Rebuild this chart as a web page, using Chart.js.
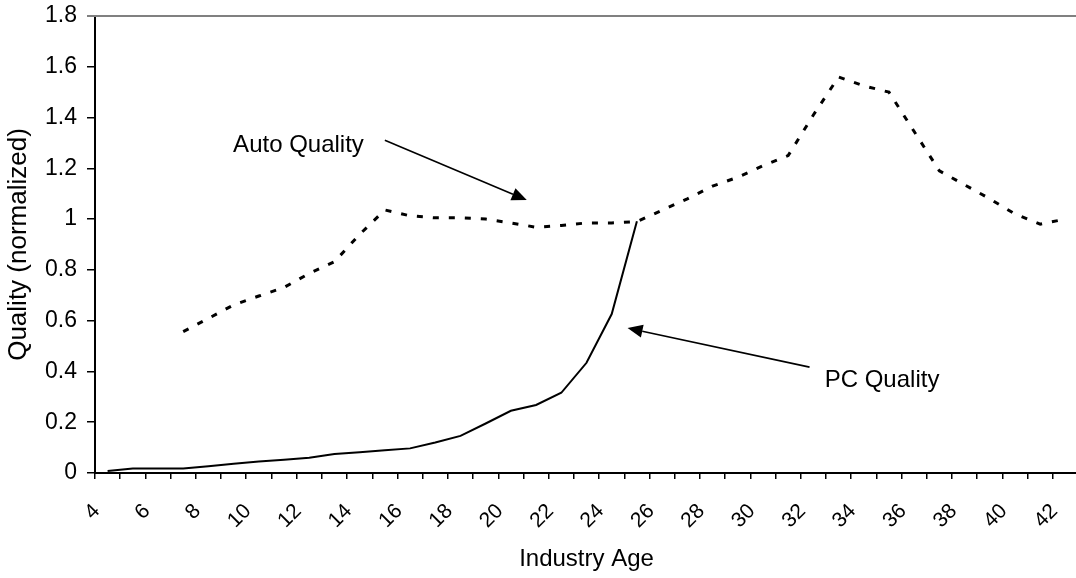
<!DOCTYPE html>
<html><head><meta charset="utf-8">
<script src="https://cdn.jsdelivr.net/npm/chart.js@4/dist/chart.umd.min.js"></script>
<style>
html,body{margin:0;padding:0;background:#fff;overflow:hidden}
#wrap{width:1078px;height:578px;position:relative}
</style></head><body><div id="wrap"><canvas id="c"></canvas></div>
<script>
// Categories: industry age 4..42
const ages = ['4','5','6','7','8','9','10','11','12','13','14','15','16','17','18','19','20','21','22','23','24','25','26','27','28','29','30','31','32','33','34','35','36','37','38','39','40','41','42'];
const pcQuality = [0.008,0.018,0.018,0.018,0.027,0.036,0.045,0.052,0.06,0.075,0.082,0.09,0.097,0.12,0.146,0.195,0.245,0.268,0.316,0.434,0.626,0.992,
  null,null,null,null,null,null,null,null,null,null,null,null,null,null,null,null,null];
const autoQuality = [null,null,null,0.557,0.609,0.662,0.697,0.731,0.786,0.832,0.94,1.036,1.013,1.005,1.005,1.0,0.985,0.968,0.975,0.985,0.985,0.99,
  1.035,1.08,1.13,1.165,1.21,1.25,1.41,1.56,1.525,1.5,1.345,1.19,1.135,1.08,1.02,0.98,1.0];
const yTickValues = [0,0.2,0.4,0.6,0.8,1,1.2,1.4,1.6,1.8];
const xLabelEvery = 2;
const annotationTexts = ['Auto Quality','PC Quality'];

// annotation placement (data units: age, quality)
const notes = [
  {text: annotationTexts[0], tx: 8.98, ty: 1.292, from: [15.0, 1.311], to: [20.63, 1.075]},
  {text: annotationTexts[1], tx: 32.45, ty: 0.366, from: [31.85, 0.417], to: [24.63, 0.571]}
];

const FONT = 'Liberation Sans, Arial, sans-serif';

const overlay = {
  id: 'overlay',
  afterDraw(chart) {
    const ctx = chart.ctx, a = chart.chartArea;
    const xs = chart.scales.x, ys = chart.scales.y;
    ctx.save();
    // top frame line
    ctx.strokeStyle = '#808080'; ctx.lineWidth = 2;
    ctx.beginPath(); ctx.moveTo(a.left - 8, a.top); ctx.lineTo(a.right, a.top); ctx.stroke();
    // annotations
    const px = age => xs.getPixelForValue(age - 4);
    ctx.fillStyle = '#000'; ctx.strokeStyle = '#000'; ctx.lineWidth = 1.6;
    ctx.font = '24px ' + FONT; ctx.textAlign = 'left'; ctx.textBaseline = 'middle';
    notes.forEach(n => {
      ctx.fillText(n.text, px(n.tx), ys.getPixelForValue(n.ty));
      const x1 = px(n.from[0]), y1 = ys.getPixelForValue(n.from[1]);
      const x2 = px(n.to[0]), y2 = ys.getPixelForValue(n.to[1]);
      const ang = Math.atan2(y2 - y1, x2 - x1), L = 15, W = 6.5;
      const bx = x2 - L * Math.cos(ang), by = y2 - L * Math.sin(ang);
      ctx.beginPath(); ctx.moveTo(x1, y1); ctx.lineTo(bx, by); ctx.stroke();
      ctx.beginPath();
      ctx.moveTo(x2, y2);
      ctx.lineTo(bx + W * Math.sin(ang), by - W * Math.cos(ang));
      ctx.lineTo(bx - W * Math.sin(ang), by + W * Math.cos(ang));
      ctx.closePath(); ctx.fill();
    });
    ctx.restore();
  }
};

new Chart(document.getElementById('c'), {
  type: 'line',
  data: {
    labels: ages,
    datasets: [
      {label: 'PC Quality', data: pcQuality, borderColor: '#000', borderWidth: 2, pointRadius: 0, tension: 0, fill: false},
      {label: 'Auto Quality', data: autoQuality, borderColor: '#000', borderWidth: 3, borderDash: [6, 10], pointRadius: 0, tension: 0, fill: false}
    ]
  },
  options: {
    responsive: true, maintainAspectRatio: false, animation: false,
    layout: {padding: {top: 16, right: 0, left: 0, bottom: 0}},
    plugins: {legend: {display: false}, tooltip: {enabled: false}},
    scales: {
      x: {
        type: 'category', offset: true,
        grid: {offset: true, drawOnChartArea: false, drawTicks: true, tickLength: 6, color: '#000', lineWidth: 1.5},
        border: {display: true, color: '#000', width: 2},
        ticks: {
          autoSkip: false, minRotation: 45, maxRotation: 45, padding: 20, labelOffset: -11,
          color: '#000', font: {family: FONT, size: 21},
          callback: (v, i) => (i % xLabelEvery === 0 ? ages[i] : '')
        },
        title: {display: true, text: 'Industry Age', color: '#000', font: {family: FONT, size: 24}, padding: {top: 0, bottom: 4}},
        afterFit: s => { s.height = 105; s.paddingLeft = 0; s.paddingRight = 0; }
      },
      y: {
        min: 0, max: 1.8,
        afterBuildTicks: s => { s.ticks = yTickValues.map(v => ({value: v})); },
        grid: {drawOnChartArea: false, drawTicks: true, tickLength: 8, color: '#000', lineWidth: 1.5},
        border: {display: true, color: '#000', width: 2},
        ticks: {padding: 10, color: '#000', font: {family: FONT, size: 23}, callback: v => String(Math.round(v * 10) / 10)},
        title: {display: true, text: 'Quality (normalized)', color: '#000', font: {family: FONT, size: 26}, padding: {top: 3, bottom: 0}},
        afterFit: s => { s.width = 95; s.paddingTop = 0; s.paddingBottom = 0; }
      }
    }
  },
  plugins: [overlay]
});
</script></body></html>
